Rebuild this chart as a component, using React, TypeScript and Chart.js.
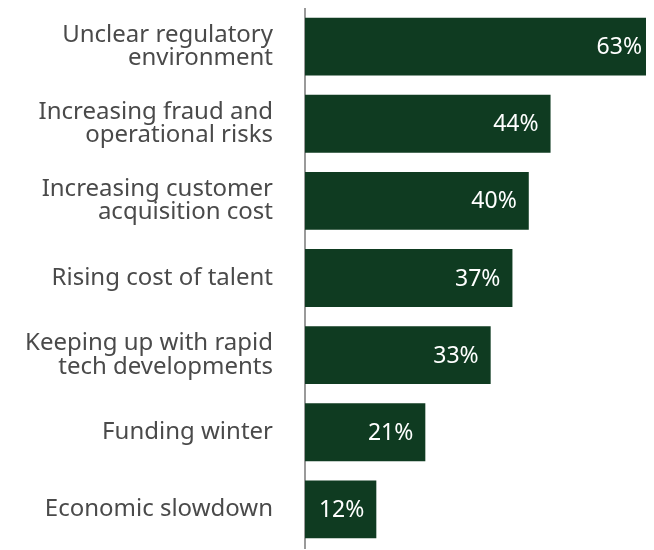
import React, { useEffect, useRef } from "react";
import { Chart, registerables } from "chart.js";

Chart.register(...registerables);

const categories: string[][] = [
  ["Unclear regulatory", "environment"],
  ["Increasing fraud and", "operational risks"],
  ["Increasing customer", "acquisition cost"],
  ["Rising cost of talent"],
  ["Keeping up with rapid", "tech developments"],
  ["Funding winter"],
  ["Economic slowdown"],
];
const values: number[] = [63, 44, 40, 37, 33, 21, 12];
const valueLabels: string[] = ["63%", "44%", "40%", "37%", "33%", "21%", "12%"];

const FONT = "'Noto Sans', sans-serif";
const AXIS_START = -1.1;

const valuePlugin = {
  id: "valueLabels",
  afterDatasetsDraw(chart: any) {
    const ctx = chart.ctx;
    const meta = chart.getDatasetMeta(0);
    ctx.save();
    ctx.fillStyle = "#ffffff";
    ctx.font = `23px ${FONT}`;
    ctx.textAlign = "right";
    ctx.textBaseline = "middle";
    meta.data.forEach((bar: any, i: number) => {
      const right = Math.min(bar.x, chart.chartArea.right);
      ctx.fillText(valueLabels[i], right - 12, bar.y + 1);
    });
    ctx.restore();
  },
};

export default function App() {
  const ref = useRef<HTMLCanvasElement>(null);
  useEffect(() => {
    if (!ref.current) return;
    const chart = new Chart(ref.current, {
      type: "bar",
      data: {
        labels: categories,
        datasets: [
          {
            data: values,
            base: AXIS_START,
            backgroundColor: "#0f3b21",
            barPercentage: 0.75,
            categoryPercentage: 1,
          },
        ],
      },
      options: {
        indexAxis: "y",
        animation: false,
        responsive: false,
        maintainAspectRatio: false,
        layout: { padding: { top: 0, bottom: 2, left: 0, right: 0 } },
        plugins: { legend: { display: false }, tooltip: { enabled: false } },
        scales: {
          x: {
            display: false,
            min: AXIS_START,
            max: 63,
          },
          y: {
            grid: { display: false, drawTicks: false },
            border: { display: true, color: "#9a9a9a", width: 2 },
            ticks: {
              color: "#4a4a4a",
              font: { family: FONT, size: 24, lineHeight: 0.98 },
              padding: 32,
            },
            afterFit(scale: any) {
              scale.width = 297;
              scale.paddingTop = 0;
              scale.paddingBottom = 0;
            },
          },
        },
      },
      plugins: [valuePlugin],
    });
    return () => chart.destroy();
  }, []);
  return (
    <div style={{ width: 646, height: 542 }}>
      <canvas ref={ref} width={646} height={542} style={{ display: "block" }} />
    </div>
  );
}
